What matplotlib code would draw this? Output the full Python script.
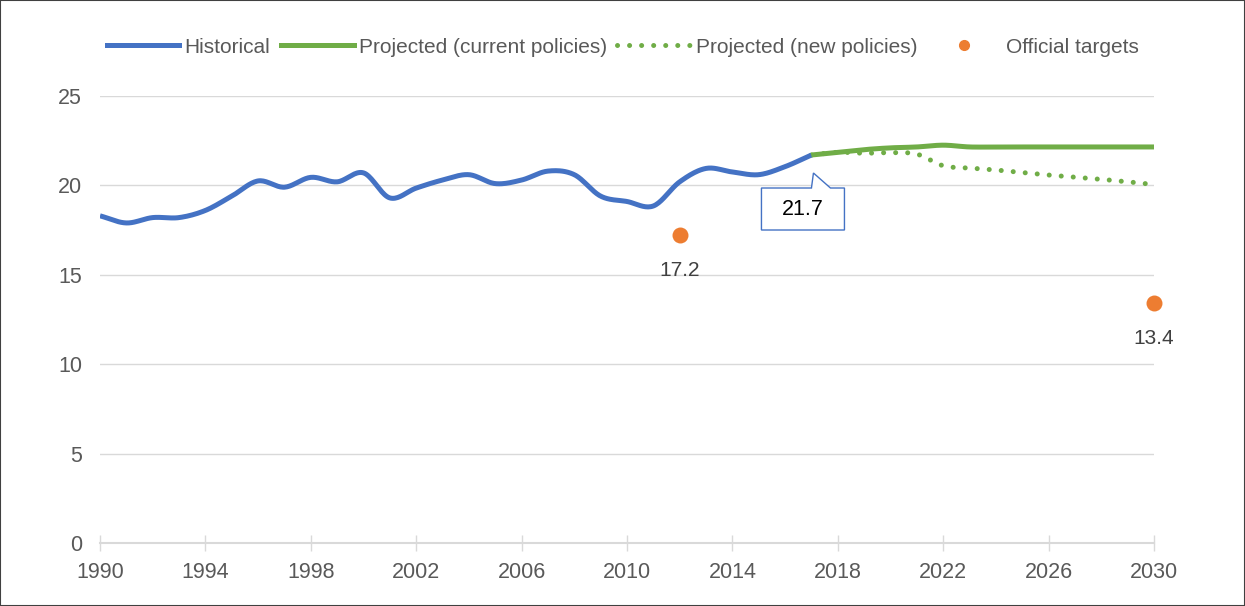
import numpy as np
import matplotlib
matplotlib.use("Agg")
import matplotlib.pyplot as plt
from matplotlib.lines import Line2D
from matplotlib.patches import Polygon, Rectangle
from matplotlib.transforms import Affine2D

plt.rcParams['font.family'] = ['Liberation Sans', 'DejaVu Sans']

# ---- data ----
hist_years = list(range(1990, 2018))
hist_values = [18.3, 17.9, 18.2, 18.2, 18.6, 19.4, 20.25, 19.9, 20.45, 20.2,
               20.7, 19.3, 19.85, 20.3, 20.6, 20.1, 20.3, 20.8, 20.6, 19.4,
               19.1, 18.85, 20.2, 20.95, 20.75, 20.6, 21.05, 21.7]
proj_years = list(range(2017, 2031))
current_values = [21.7, 21.85, 22.0, 22.1, 22.15, 22.25, 22.15, 22.15, 22.15,
                  22.15, 22.15, 22.15, 22.15, 22.15]
new_values = [21.7, 21.85, 21.8, 21.83, 21.75, 21.1, 20.97, 20.86, 20.72,
              20.58, 20.46, 20.34, 20.2, 20.05]
target_years = [2012, 2030]
target_values = [17.2, 13.4]
target_labels = ["17.2", "13.4"]
callout_year, callout_value, callout_label = 2017, 21.7, "21.7"
x_ticks = list(range(1990, 2031, 4))
y_ticks = [0, 5, 10, 15, 20, 25]

BLUE = "#4472C4"
GREEN = "#70AD47"
ORANGE = "#ED7D31"
TXT = "#595959"
GRID = "#D9D9D9"
DOTS = (0, (0.01, 2.4))


def smooth(x, y, n=20):
    """Catmull-Rom style smoothing for drawing (Excel smoothed line look)."""
    x = np.asarray(x, float)
    y = np.asarray(y, float)
    px = np.concatenate([[2 * x[0] - x[1]], x, [2 * x[-1] - x[-2]]])
    py = np.concatenate([[2 * y[0] - y[1]], y, [2 * y[-1] - y[-2]]])
    xs, ys = [], []
    for i in range(1, len(px) - 2):
        t = np.linspace(0, 1, n, endpoint=False)
        for arr, out in ((px, xs), (py, ys)):
            p0, p1, p2, p3 = arr[i - 1], arr[i], arr[i + 1], arr[i + 2]
            out.extend(0.5 * ((2 * p1) + (-p0 + p2) * t +
                              (2 * p0 - 5 * p1 + 4 * p2 - p3) * t ** 2 +
                              (-p0 + 3 * p1 - 3 * p2 + p3) * t ** 3))
    xs.append(x[-1])
    ys.append(y[-1])
    return np.array(xs), np.array(ys)


fig = plt.figure(figsize=(12.45, 6.06), dpi=100)
ax = fig.add_axes([100 / 1245, 63 / 606, 1054 / 1245, 447 / 606])
ax.set_xlim(1990, 2030)
ax.set_ylim(0, 25)

ax.set_yticks(y_ticks)
ax.set_xticks(x_ticks)
ax.grid(axis='y', color=GRID, lw=1.0)
ax.set_axisbelow(True)
for s in ['top', 'right', 'left']:
    ax.spines[s].set_visible(False)
ax.spines['bottom'].set_color(GRID)
ax.spines['bottom'].set_linewidth(1.5)
ax.tick_params(axis='y', length=0, pad=13, labelsize=15.5, labelcolor=TXT)
ax.tick_params(axis='x', length=12, direction='inout', color=GRID, width=1,
               pad=7.5, labelsize=15.5, labelcolor=TXT)

hx, hy = smooth(hist_years, hist_values)
ax.plot(hx, hy, color=BLUE, lw=3.6, solid_capstyle='butt', zorder=3)
nx, ny = smooth(proj_years, new_values)
ax.plot(nx, ny, color=GREEN, lw=3.6, linestyle=DOTS,
        dash_capstyle='round', zorder=2)
cx, cy = smooth(proj_years, current_values)
ax.plot(cx, cy, color=GREEN, lw=3.6, solid_capstyle='butt', zorder=3)

ax.plot(target_years, target_values, 'o', color=ORANGE, ms=11.5,
        markeredgewidth=0, zorder=4, clip_on=False)
for xv, yv, lab in zip(target_years, target_values, target_labels):
    ax.annotate(lab, (xv, yv), xytext=(0, -25), textcoords='offset points',
                ha='center', va='center', fontsize=15, color='#404040')

# callout box
fig.canvas.draw()
px0, py0 = ax.transData.transform((callout_year, callout_value))
verts = [(-50, -33), (0, -33), (2, -18), (19, -33), (33, -33), (33, -75),
         (-50, -75)]
poly = Polygon(verts, closed=True, facecolor='white', edgecolor=BLUE, lw=1.0,
               transform=Affine2D().translate(px0, py0), zorder=6,
               clip_on=False)
fig.add_artist(poly)
fig.text((px0 - 8.5) / 1245, (py0 - 54) / 606, callout_label, ha='center',
         va='center', fontsize=15.5, color='black', zorder=7)

handles = [
    Line2D([], [], color=BLUE, lw=3.6),
    Line2D([], [], color=GREEN, lw=3.6),
    Line2D([], [], color=GREEN, lw=3.6, linestyle=DOTS,
           dash_capstyle='round'),
    Line2D([], [], color=ORANGE, marker='o', ms=7, lw=0),
]
labels = ["Historical", "Projected (current policies)",
          "Projected (new policies)", "Official targets"]
fig.legend(handles, labels, loc='center', bbox_to_anchor=(0.5, 0.9224),
           ncol=4, frameon=False, fontsize=15, handlelength=3.5,
           handletextpad=0.25, columnspacing=0.5, labelcolor=TXT)

fig.add_artist(Rectangle((0, 0), 1, 1, transform=fig.transFigure,
                         fill=False, edgecolor='#404040', lw=1.5))

fig.savefig("out.png", dpi=100)
